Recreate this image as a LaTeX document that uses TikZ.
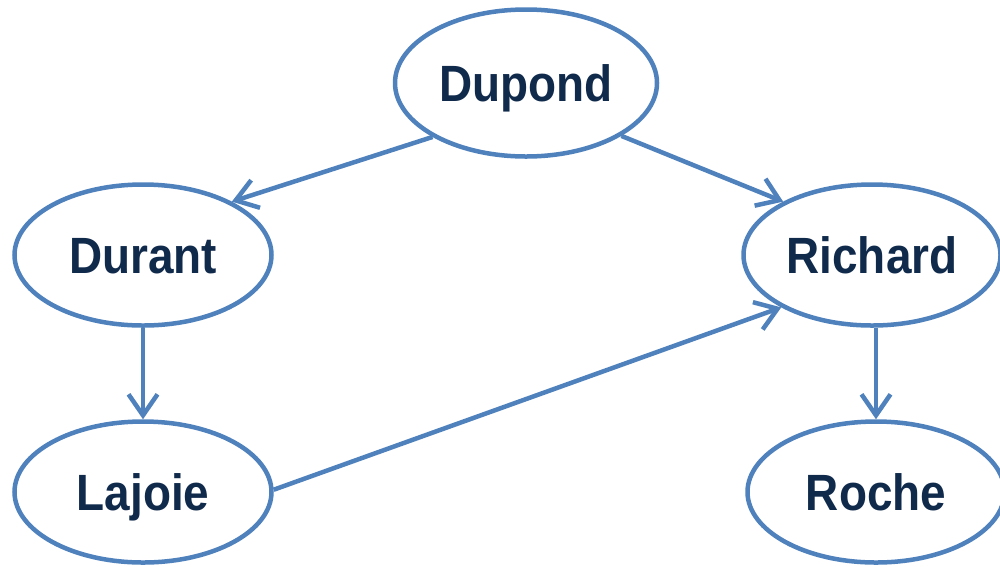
\documentclass[tikz,border=0pt]{standalone}
\usepackage{fontspec}
\newfontfamily\lblfont[FakeStretch=0.9]{Liberation Sans}
\usetikzlibrary{arrows.meta,shapes.geometric}
\definecolor{edgeblue}{RGB}{79,129,189}
\definecolor{navy}{RGB}{16,42,76}
\tikzset{
  person/.style={ellipse, draw=edgeblue, line width=4.5pt, fill=white, inner sep=0pt,
    minimum width=257pt, minimum height=141pt,
    text height=36.5pt, text depth=0pt,
    font=\lblfont\bfseries\fontsize{51}{60}\selectfont, text=navy},
  link/.style={draw=edgeblue, line width=4.5pt,
    -{Straight Barb[length=21pt,width=29pt,line width=4.5pt]}}
}
\begin{document}
\begin{tikzpicture}[x=1pt,y=-1pt]
  \useasboundingbox (0,0) rectangle (1000,566);
  % people
  \node[person, minimum width=262pt, minimum height=147pt] (dupond) at (526,83) {Dupond};
  \node[person] (durant)  at (143,255) {Durant};
  \node[person] (richard) at (872,255) {Richard};
  \node[person] (lajoie)  at (143,492) {Lajoie};
  \node[person] (roche)   at (876,492) {Roche};
  % relations
  \draw[link] (dupond.210)  -- (durant.31);
  \draw[link] (dupond.331)  -- (richard.149);
  \draw[link] (durant.south) -- (lajoie.north);
  \draw[link] (lajoie.1)    -- (richard.210);
  \draw[link] (richard.south -| roche.north) -- (roche.north);
\end{tikzpicture}
\end{document}
